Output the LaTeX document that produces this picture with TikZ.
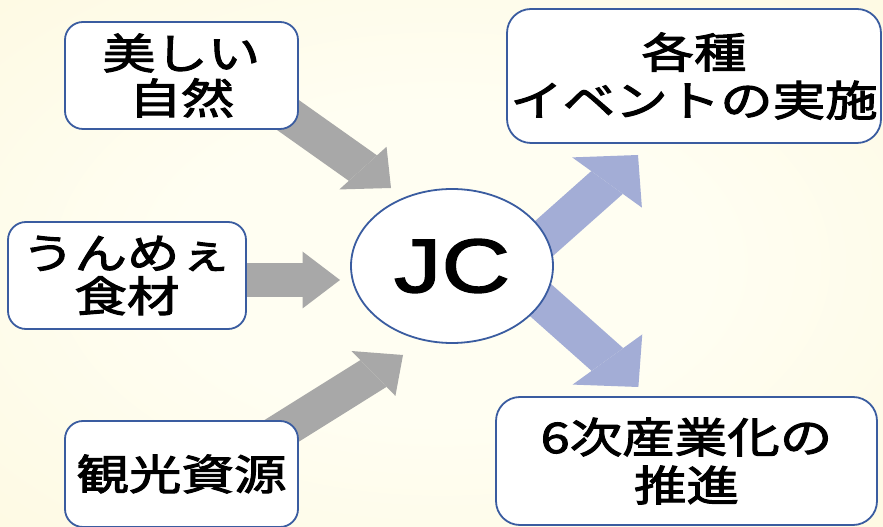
\documentclass[tikz,border=0pt]{standalone}
\usepackage{fontspec}
\newfontfamily\jp[FakeStretch=1.25,FakeBold=2.5]{Noto Sans CJK JP}
\newfontfamily\latn[FakeStretch=1.25,FakeBold=2]{Liberation Sans}
\usetikzlibrary{arrows.meta,shapes.geometric}
\definecolor{bgin}{RGB}{255,254,242}
\definecolor{bgout}{RGB}{251,242,203}
\definecolor{edgeblue}{RGB}{58,92,160}
\definecolor{arrgray}{RGB}{168,168,168}
\definecolor{arrblue}{RGB}{163,173,214}
\pgfdeclareradialshading{bgshade}{\pgfpoint{0bp}{0bp}}{color(0bp)=(bgin); color(15bp)=(bgin); color(71bp)=(bgout)}
\begin{document}
\begin{tikzpicture}[x=1pt,y=1pt,
  box/.style={draw=edgeblue, line width=1.8pt, fill=white, rounded corners=18pt,
    inner sep=0pt, align=center, font=\jp\fontsize{42}{45}\selectfont},
  bigbox/.style={box, rounded corners=24pt, font=\jp\fontsize{42}{48}\selectfont},
  hub/.style={ellipse, draw=edgeblue, line width=1.8pt, fill=white, inner sep=0pt,
    font=\latn\fontsize{76}{80}\selectfont},
  grayarrow/.style={line width=34pt, draw=arrgray,
    -{Triangle[width=57pt,length=30pt,line width=0pt]}},
  bluearrow/.style={line width=34pt, draw=arrblue,
    -{Triangle[width=75pt,length=37pt,line width=0pt]}}]
\useasboundingbox (0,0) rectangle (883,527);
\shade[shading=bgshade] (0,0) rectangle (883,527);
% arrows (drawn in unstretched space, then stretched horizontally)
\begin{scope}[transform canvas={xscale=1.25}]
  \coordinate (g1s) at (200.5,438.4); \coordinate (g1e) at (312.8,339);
  \coordinate (g2s) at (160,247);     \coordinate (g2e) at (272,247);
  \coordinate (g3s) at (204.2,79.6);  \coordinate (g3e) at (322.4,172);
  \coordinate (b1s) at (410.0,260.5); \coordinate (b1e) at (510.4,372);
  \coordinate (b2s) at (410.3,251.5); \coordinate (b2e) at (510.7,140);
  \draw[grayarrow] (g1s) -- (g1e);
  \draw[grayarrow] (g2s) -- (g2e);
  \draw[grayarrow] (g3s) -- (g3e);
  \draw[bluearrow] (b1s) -- (b1e);
  \draw[bluearrow] (b2s) -- (b2e);
\end{scope}
% nodes
\node[box, minimum width=233pt, minimum height=107pt] (nature) at (181.5,451.5) {美しい\\自然};
\node[box, minimum width=238pt, minimum height=107pt, font=\jp\fontsize{42}{43}\selectfont] (food) at (127,251.5) {うんめぇ\\食材};
\node[box, minimum width=233pt, minimum height=106pt] (tour) at (181.5,53) {\raisebox{-4pt}{観光資源}};
\node[bigbox, minimum width=374pt, minimum height=134pt] (event) at (694,451) {各種\\イベントの実施};
\node[bigbox, minimum width=381pt, minimum height=128pt] (sixth) at (686.5,66) {6次産業化の\\推進};
\node[hub, minimum width=202pt, minimum height=154pt] (jc) at (452,261) {\raisebox{-3.5pt}{JC}};
\end{tikzpicture}
\end{document}
